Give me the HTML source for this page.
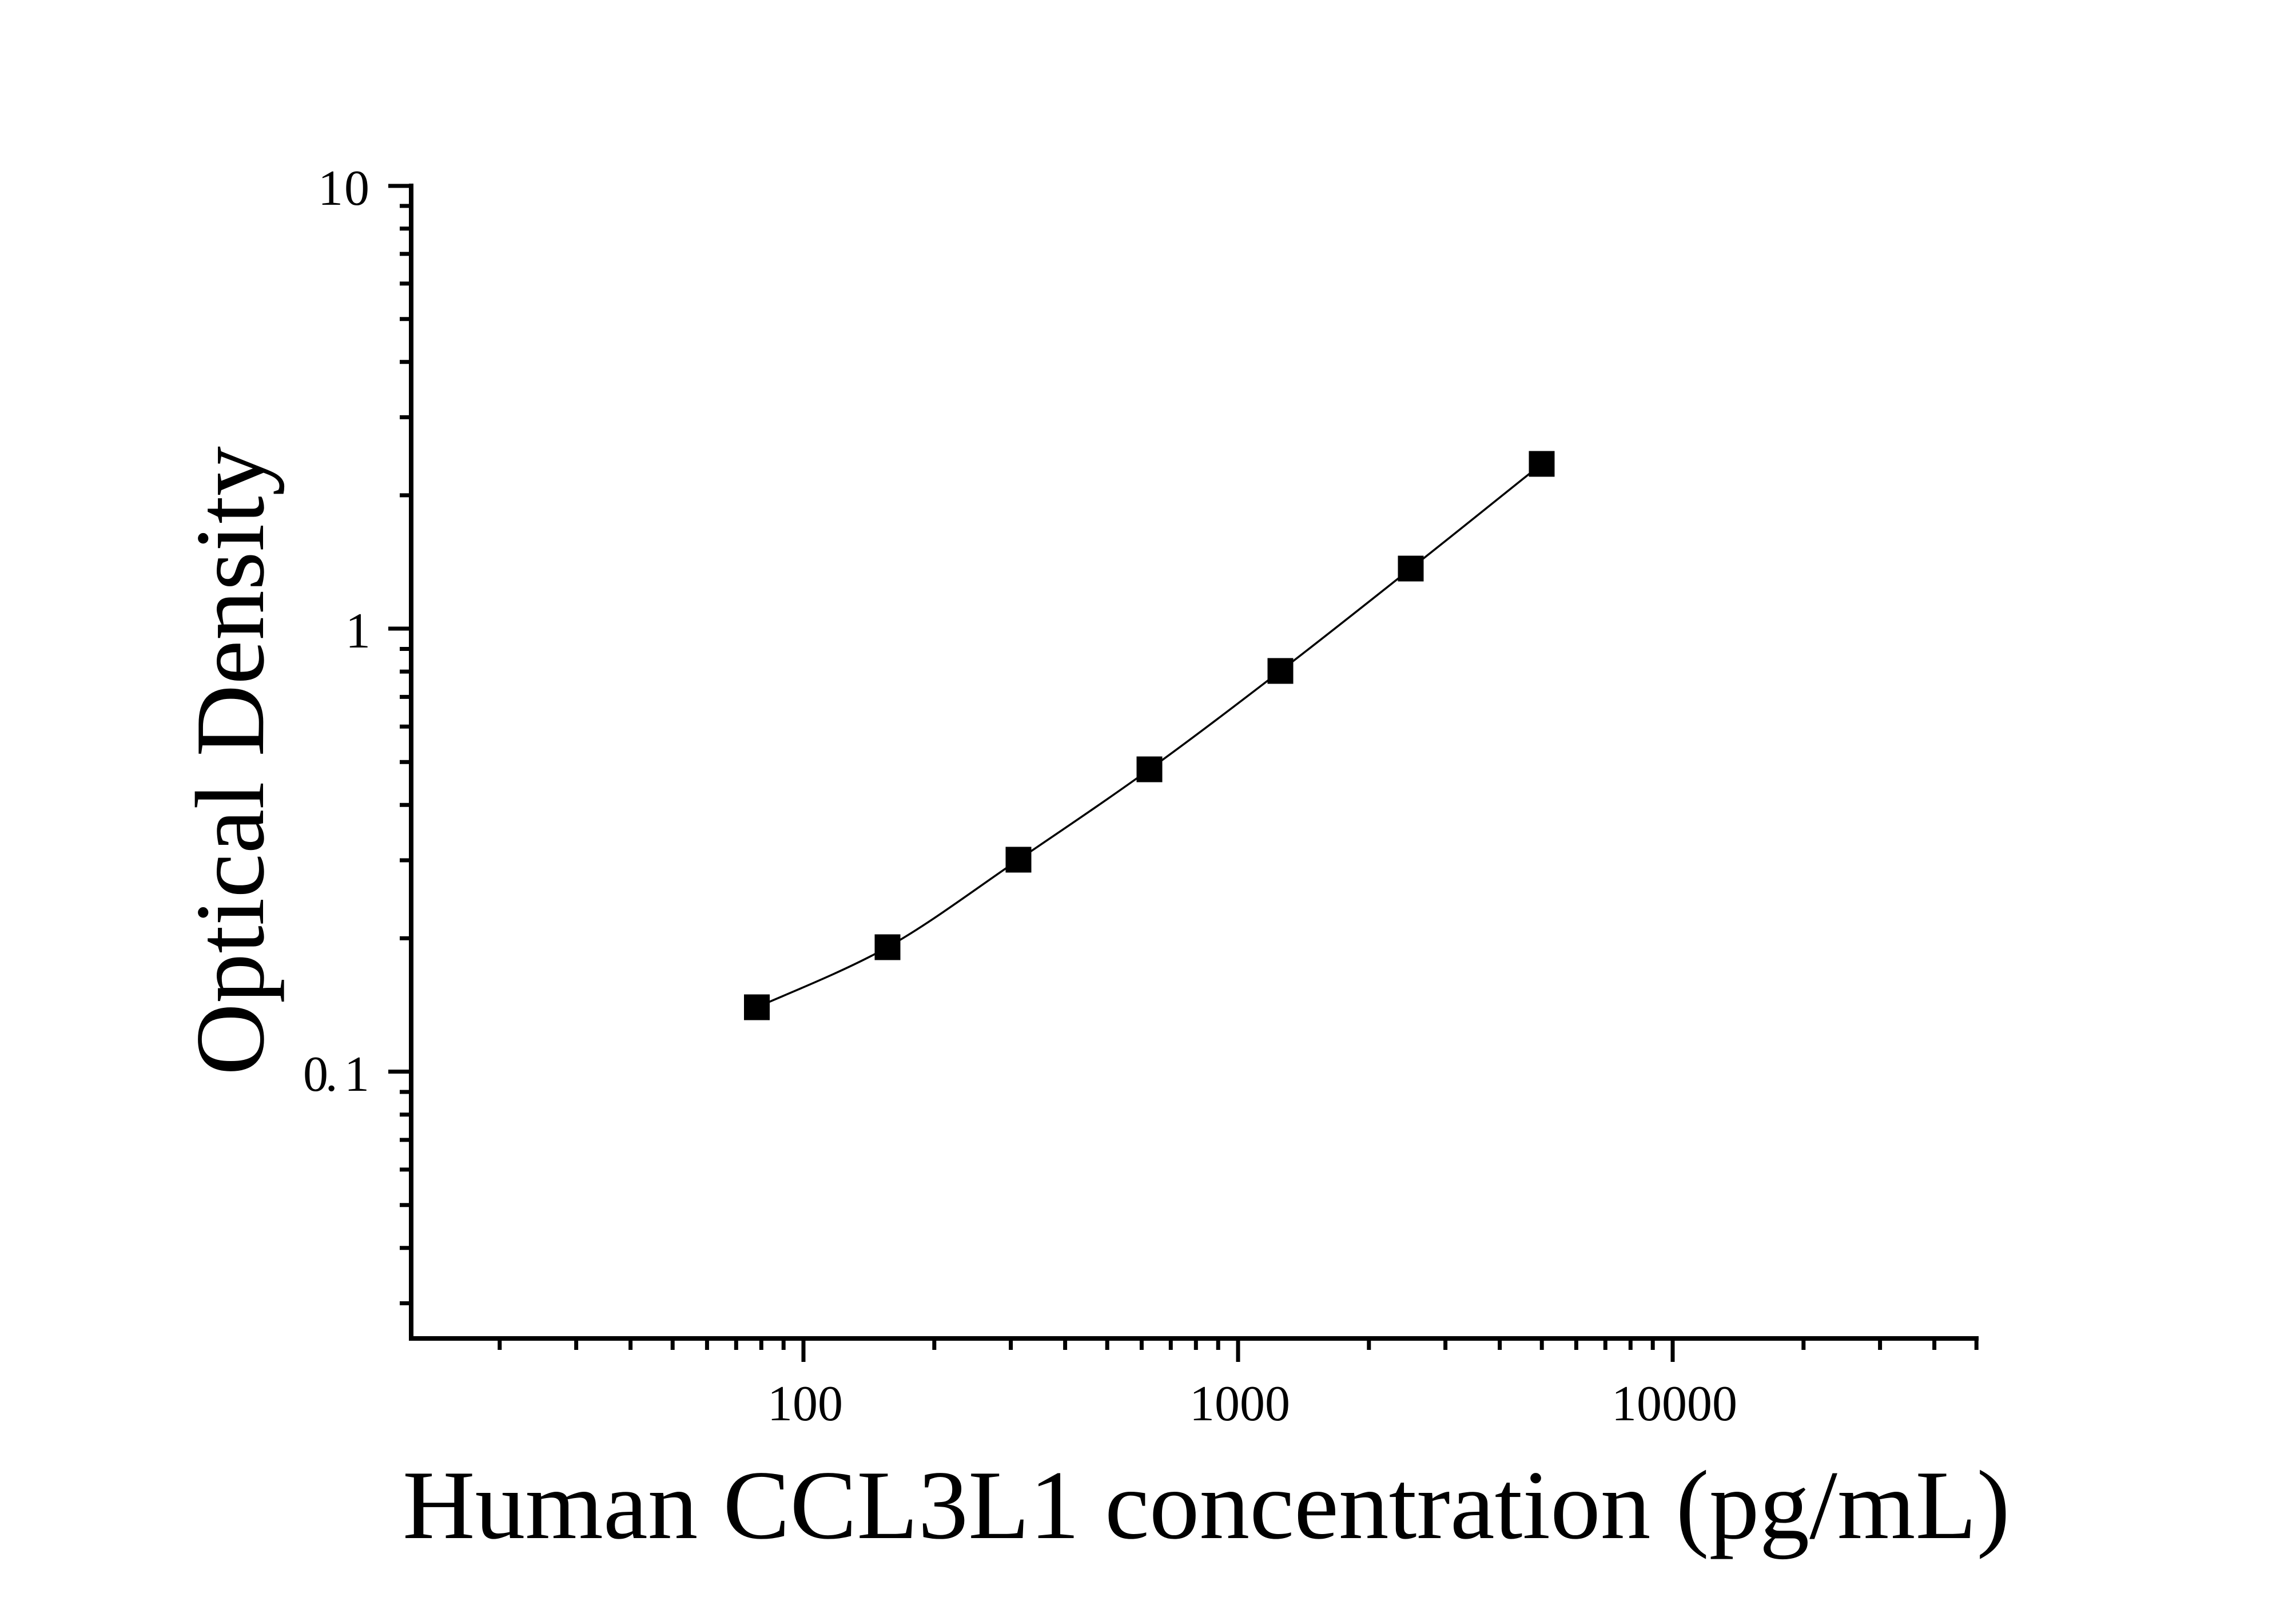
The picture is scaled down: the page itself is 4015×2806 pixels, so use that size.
<!DOCTYPE html>
<html><head><meta charset="utf-8"><style>
html,body{margin:0;padding:0;background:#fff;}
svg{display:block;}
text{font-family:"Liberation Serif",serif;fill:#000;}
</style></head><body>
<svg width="4015" height="2806" viewBox="0 0 4015 2806" xmlns="http://www.w3.org/2000/svg">
<rect width="4015" height="2806" fill="#fff"/>
<g stroke="#000" stroke-width="8" fill="none">
<line x1="719" y1="321" x2="719" y2="2344"/>
<line x1="715" y1="2340" x2="3460" y2="2340"/>
</g>
<g stroke="#000" stroke-width="7">
<line x1="679" y1="325" x2="719" y2="325"/>
<line x1="679" y1="1099" x2="719" y2="1099"/>
<line x1="679" y1="1873.5" x2="719" y2="1873.5"/>
<g>
<line x1="699" y1="360" x2="719" y2="360"/><line x1="699" y1="399.6" x2="719" y2="399.6"/><line x1="699" y1="443.9" x2="719" y2="443.9"/><line x1="699" y1="495.8" x2="719" y2="495.8"/><line x1="699" y1="557.7" x2="719" y2="557.7"/><line x1="699" y1="632.7" x2="719" y2="632.7"/><line x1="699" y1="729.5" x2="719" y2="729.5"/><line x1="699" y1="865.9" x2="719" y2="865.9"/>
<line x1="699" y1="1134.5" x2="719" y2="1134.5"/><line x1="699" y1="1174.1" x2="719" y2="1174.1"/><line x1="699" y1="1218.4" x2="719" y2="1218.4"/><line x1="699" y1="1270.3" x2="719" y2="1270.3"/><line x1="699" y1="1332.2" x2="719" y2="1332.2"/><line x1="699" y1="1407.2" x2="719" y2="1407.2"/><line x1="699" y1="1504" x2="719" y2="1504"/><line x1="699" y1="1640.4" x2="719" y2="1640.4"/>
<line x1="699" y1="1909" x2="719" y2="1909"/><line x1="699" y1="1948.6" x2="719" y2="1948.6"/><line x1="699" y1="1992.9" x2="719" y2="1992.9"/><line x1="699" y1="2044.8" x2="719" y2="2044.8"/><line x1="699" y1="2106.7" x2="719" y2="2106.7"/><line x1="699" y1="2181.7" x2="719" y2="2181.7"/><line x1="699" y1="2278.5" x2="719" y2="2278.5"/>
</g>
</g>
<g stroke="#000" stroke-width="7">
<line x1="1405" y1="2340" x2="1405" y2="2381"/>
<line x1="2165" y1="2340" x2="2165" y2="2381"/>
<line x1="2925" y1="2340" x2="2925" y2="2381"/>
<line x1="873.8" y1="2340" x2="873.8" y2="2360"/><line x1="1007.6" y1="2340" x2="1007.6" y2="2360"/><line x1="1102.6" y1="2340" x2="1102.6" y2="2360"/><line x1="1176.2" y1="2340" x2="1176.2" y2="2360"/><line x1="1236.4" y1="2340" x2="1236.4" y2="2360"/><line x1="1287.3" y1="2340" x2="1287.3" y2="2360"/><line x1="1331.3" y1="2340" x2="1331.3" y2="2360"/><line x1="1370.2" y1="2340" x2="1370.2" y2="2360"/>
<line x1="1633.8" y1="2340" x2="1633.8" y2="2360"/><line x1="1767.6" y1="2340" x2="1767.6" y2="2360"/><line x1="1862.6" y1="2340" x2="1862.6" y2="2360"/><line x1="1936.2" y1="2340" x2="1936.2" y2="2360"/><line x1="1996.4" y1="2340" x2="1996.4" y2="2360"/><line x1="2047.3" y1="2340" x2="2047.3" y2="2360"/><line x1="2091.3" y1="2340" x2="2091.3" y2="2360"/><line x1="2130.2" y1="2340" x2="2130.2" y2="2360"/>
<line x1="2393.8" y1="2340" x2="2393.8" y2="2360"/><line x1="2527.6" y1="2340" x2="2527.6" y2="2360"/><line x1="2622.6" y1="2340" x2="2622.6" y2="2360"/><line x1="2696.2" y1="2340" x2="2696.2" y2="2360"/><line x1="2756.4" y1="2340" x2="2756.4" y2="2360"/><line x1="2807.3" y1="2340" x2="2807.3" y2="2360"/><line x1="2851.3" y1="2340" x2="2851.3" y2="2360"/><line x1="2890.2" y1="2340" x2="2890.2" y2="2360"/>
<line x1="3153.8" y1="2340" x2="3153.8" y2="2360"/><line x1="3287.6" y1="2340" x2="3287.6" y2="2360"/><line x1="3382.6" y1="2340" x2="3382.6" y2="2360"/><line x1="3456.2" y1="2340" x2="3456.2" y2="2360"/>
</g>
<g font-size="88">
<text x="648" y="358" text-anchor="end" letter-spacing="2">10</text>
<text x="648" y="1132" text-anchor="end">1</text>
<text x="530" y="1907" textLength="116" lengthAdjust="spacing">0. 1</text>
<text x="1408" y="2483" text-anchor="middle">100</text>
<text x="2168" y="2483" text-anchor="middle">1000</text>
<text x="2928" y="2483" text-anchor="middle">10000</text>
</g>
<text x="704" y="2689" font-size="172" textLength="2811" lengthAdjust="spacingAndGlyphs">Human CCL3L1 concentration (pg/mL)</text>
<text transform="translate(460,1330) rotate(-90)" x="0" y="0" font-size="172" text-anchor="middle" textLength="1100" lengthAdjust="spacingAndGlyphs">Optical Density</text>
<path d="M1323.5,1761 C1361.6,1743.5 1475.8,1699 1552,1656 C1628.3,1613 1704.7,1554.8 1781,1503 C1857.3,1451.2 1933.7,1400 2010,1345 C2086.3,1290 2162.8,1231.5 2239,1173 C2315.2,1114.5 2390.8,1054.3 2467,994 C2543.2,933.7 2657.8,841.5 2696,811" fill="none" stroke="#000" stroke-width="3.5"/>
<g fill="#000">
<rect x="1301" y="1738.5" width="45" height="45"/>
<rect x="1529.5" y="1633.5" width="45" height="45"/>
<rect x="1758.5" y="1480.5" width="45" height="45"/>
<rect x="1987.5" y="1322.5" width="45" height="45"/>
<rect x="2216.5" y="1150.5" width="45" height="45"/>
<rect x="2444.5" y="971.5" width="45" height="45"/>
<rect x="2673.5" y="788.5" width="45" height="45"/>
</g>
</svg>
</body></html>
